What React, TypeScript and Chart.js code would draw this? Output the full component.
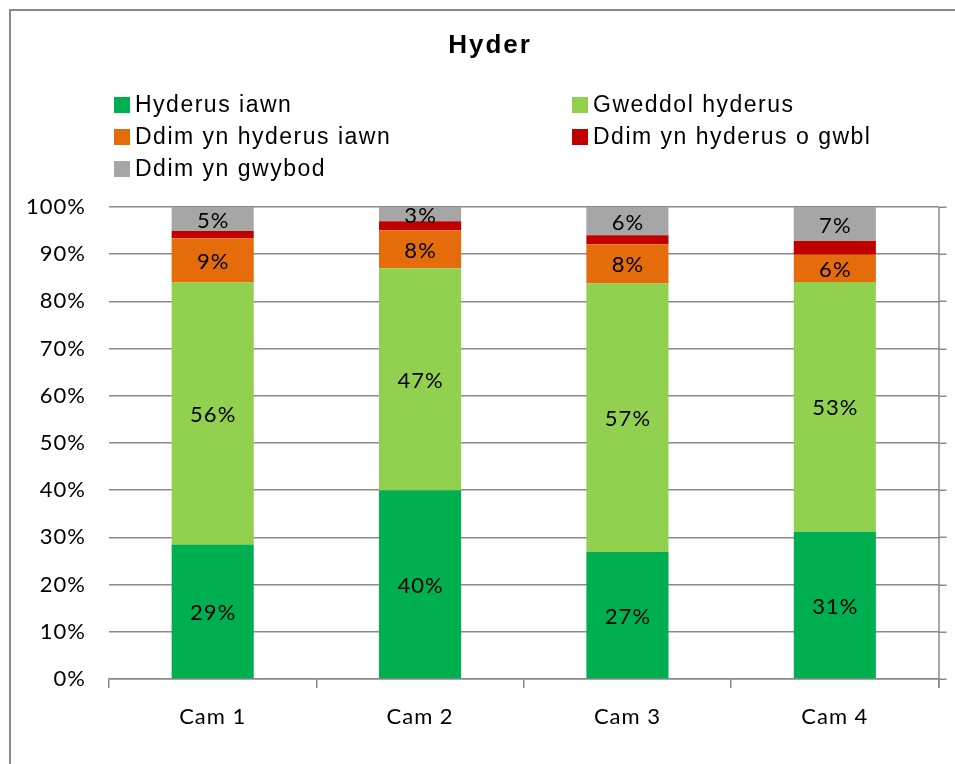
import React, { useEffect, useRef } from 'react';
import { Chart, registerables } from 'chart.js';

Chart.register(...registerables);

const chartTitle = 'Hyder';
const categories = ['Cam 1', 'Cam 2', 'Cam 3', 'Cam 4'];
const seriesNames = [
  'Hyderus iawn',
  'Gweddol hyderus',
  'Ddim yn hyderus iawn',
  'Ddim yn hyderus o gwbl',
  'Ddim yn gwybod',
];
const seriesColors = ['#00B050', '#92D050', '#E46C0A', '#C00000', '#A6A6A6'];
const hyderusIawn = [28.5, 40.0, 26.9, 31.2];
const gweddolHyderus = [55.5, 47.0, 56.9, 52.9];
const ddimHyderusIawn = [9.4, 8.1, 8.3, 5.8];
const ddimHyderusOGwbl = [1.5, 1.9, 1.9, 2.9];
const ddimYnGwybod = [5.1, 3.0, 6.0, 7.2];
const seriesValues = [hyderusIawn, gweddolHyderus, ddimHyderusIawn, ddimHyderusOGwbl, ddimYnGwybod];
const seriesShowLabel = [true, true, true, false, true];

const GRID = '#8a8a8a';
const BODY_FONT = 'Lato';
const LEGEND_FONT = '"Liberation Sans", Arial, sans-serif';

const decorPlugin = {
  id: 'decor',
  beforeDraw(chart: any) {
    chart.ctx.letterSpacing = '1px';
  },
  afterDraw(chart: any) {
    const ctx = chart.ctx as CanvasRenderingContext2D;
    const { right, top, bottom } = chart.chartArea;
    ctx.save();
    // outer frame
    ctx.fillStyle = GRID;
    ctx.fillRect(9, 9, chart.width, 2);
    ctx.fillRect(9, 9, 2, chart.height);

    // right side line + gridline extensions
    const ys = chart.scales.y;
    ctx.strokeStyle = GRID;
    ctx.lineWidth = 1.5;
    ys.ticks.forEach((t: any) => {
      const py = Math.round(ys.getPixelForValue(t.value)) + 0.25;
      ctx.beginPath();
      ctx.moveTo(right, py);
      ctx.lineTo(right + 8, py);
      ctx.stroke();
    });
    ctx.beginPath();
    ctx.moveTo(Math.round(right), top);
    ctx.lineTo(Math.round(right), bottom + 9);
    ctx.stroke();

    // data labels
    ctx.fillStyle = '#000';
    ctx.font = `22px ${BODY_FONT}`;
    (ctx as any).letterSpacing = '1px';
    ctx.textAlign = 'center';
    ctx.textBaseline = 'middle';
    chart.data.datasets.forEach((ds: any, di: number) => {
      if (!seriesShowLabel[di]) return;
      const meta = chart.getDatasetMeta(di);
      meta.data.forEach((el: any, i: number) => {
        const v = ds.data[i];
        const cy = (el.y + el.base) / 2;
        ctx.fillText(`${Math.round(v)}%`, el.x + 0.5, cy + 1.5);
      });
    });

    // title
    ctx.font = `bold 26px ${LEGEND_FONT}`;
    (ctx as any).letterSpacing = '2px';
    ctx.fillText(chartTitle, 490, 46);

    // legend
    ctx.font = `23px ${LEGEND_FONT}`;
    (ctx as any).letterSpacing = '1.5px';
    ctx.textAlign = 'left';
    const colX = [114, 572];
    const rowY = [105, 137, 169];
    seriesNames.forEach((name, i) => {
      const cx = colX[i % 2];
      const cy = rowY[Math.floor(i / 2)];
      ctx.fillStyle = seriesColors[i];
      ctx.fillRect(cx, cy - 8, 16, 16);
      ctx.fillStyle = '#000';
      ctx.fillText(name, cx + 21, cy + 1);
    });
    ctx.restore();
  },
};

export default function App() {
  const ref = useRef<HTMLCanvasElement | null>(null);
  useEffect(() => {
    if (!ref.current) return;
    const chart = new Chart(ref.current, {
      type: 'bar',
      data: {
        labels: categories,
        datasets: seriesNames.map((name, i) => ({
          label: name,
          data: seriesValues[i],
          backgroundColor: seriesColors[i],
          borderWidth: 0,
          barPercentage: 0.396,
          categoryPercentage: 1,
        })),
      },
      options: {
        responsive: false,
        animation: false,
        layout: { padding: { left: 0, right: 16.5, top: 207, bottom: 0 } },
        plugins: {
          legend: { display: false },
          title: { display: false },
          tooltip: { enabled: false },
        },
        scales: {
          x: {
            stacked: true,
            grid: {
              offset: true,
              drawOnChartArea: false,
              drawTicks: true,
              tickLength: 9,
              color: GRID,
              lineWidth: 1.5,
            },
            border: { display: true, color: GRID, width: 1.5 },
            ticks: {
              color: '#000',
              font: { family: BODY_FONT, size: 22 },
              padding: 16,
              maxRotation: 0,
            },
            afterFit: (scale: any) => {
              scale.height = 85;
            },
          },
          y: {
            stacked: true,
            min: 0,
            max: 100,
            ticks: {
              stepSize: 10,
              color: '#000',
              font: { family: BODY_FONT, size: 22 },
              padding: 23,
              callback: (v: any) => `${v}%`,
            },
            grid: { color: GRID, lineWidth: 1.5, drawTicks: false },
            border: { display: false },
            afterFit: (scale: any) => {
              scale.width = 109;
            },
          },
        },
      },
      plugins: [decorPlugin],
    });
    return () => chart.destroy();
  }, []);
  return (
    <canvas
      ref={ref}
      width={955}
      height={764}
      style={{ position: 'fixed', left: 0, top: 0, width: 955, height: 764, background: '#fff' }}
    />
  );
}
